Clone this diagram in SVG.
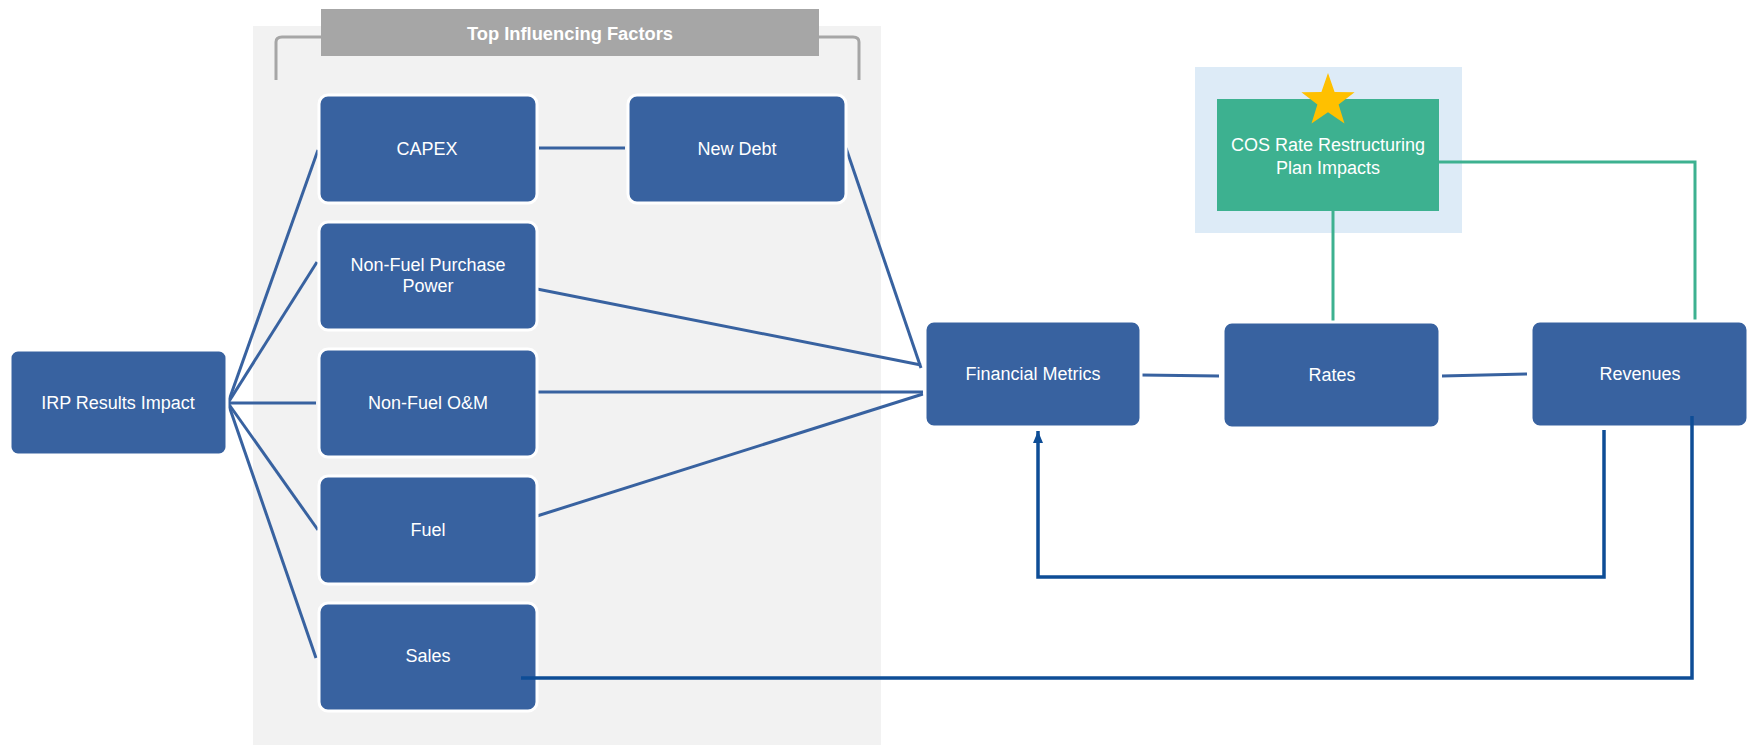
<svg xmlns="http://www.w3.org/2000/svg" width="1749" height="745" viewBox="0 0 1749 745">
<style>
.node{fill:#3862A0;stroke:#ffffff;stroke-width:3}
.t{font-family:"Liberation Sans",Arial,sans-serif;font-size:18px;fill:#ffffff;text-anchor:middle}
.c{fill:none;stroke:#3862A0;stroke-width:3}
.g{fill:none;stroke:#3DB190;stroke-width:3}
.d{fill:none;stroke:#0E4D96;stroke-width:3.5}
</style>
<defs>
<marker id="arr" markerWidth="12" markerHeight="10" refX="12" refY="5" orient="auto" markerUnits="userSpaceOnUse" viewBox="0 0 12 10">
<path d="M0,0 L12,5 L0,10 Z" fill="#0E4D96"/>
</marker>
</defs>
<rect width="1749" height="745" fill="#ffffff"/>
<g id="panel">
<rect x="253" y="26" width="628" height="719" fill="#F2F2F2"/>
<path d="M276,80 V42 Q276,37 282,37 H321 M819,37 H853 Q859,37 859,42 V80" fill="none" stroke="#A6A6A6" stroke-width="3"/>
<rect x="321" y="9" width="498" height="47" fill="#A6A6A6"/>
<text x="570" y="40" font-family="Liberation Sans,Arial,sans-serif" font-weight="bold" font-size="18" fill="#ffffff" text-anchor="middle" textLength="206" lengthAdjust="spacingAndGlyphs">Top Influencing Factors</text>
</g>
<g id="cos-bg">
<rect x="1195" y="67" width="267" height="166" fill="#DDEBF7"/>
</g>
<g id="connectors">
<line class="c" x1="228" y1="403" x2="318" y2="150"/>
<line class="c" x1="228" y1="403" x2="317" y2="262"/>
<line class="c" x1="228" y1="403" x2="316" y2="403"/>
<line class="c" x1="228" y1="403" x2="318" y2="530"/>
<line class="c" x1="228" y1="403" x2="316" y2="658"/>
<line class="c" x1="539" y1="148" x2="625" y2="148"/>
<line class="c" x1="846" y1="148" x2="921" y2="368"/>
<line class="c" x1="537" y1="289" x2="921" y2="365"/>
<line class="c" x1="537" y1="392" x2="923" y2="392"/>
<line class="c" x1="537" y1="516" x2="923" y2="394"/>
<line class="c" x1="1141" y1="375" x2="1219" y2="376"/>
<line class="c" x1="1442" y1="376" x2="1527" y2="374"/>
<path class="g" d="M1333,211 V327"/>
<path class="g" d="M1439,162 H1695 V325"/>
<path class="d" d="M1604,430 V577 H1038 V431" marker-end="url(#arr)"/>
</g>
<g id="irp"><rect class="node" x="10" y="350" width="217" height="105" rx="8"/><text class="t" x="118" y="409">IRP Results Impact</text></g>
<g id="capex"><rect class="node" x="319" y="95" width="218" height="108" rx="9"/><text class="t" x="427" y="155">CAPEX</text></g>
<g id="newdebt"><rect class="node" x="628" y="95" width="218" height="108" rx="9"/><text class="t" x="737" y="155">New Debt</text></g>
<g id="nfpp"><rect class="node" x="319" y="222" width="218" height="108" rx="9"/><text class="t" x="428" y="271">Non-Fuel Purchase</text><text class="t" x="428" y="292">Power</text></g>
<g id="om"><rect class="node" x="319" y="349" width="218" height="108" rx="9"/><text class="t" x="428" y="409">Non-Fuel O&amp;M</text></g>
<g id="fuel"><rect class="node" x="319" y="476" width="218" height="108" rx="9"/><text class="t" x="428" y="536">Fuel</text></g>
<g id="sales"><rect class="node" x="319" y="603" width="218" height="108" rx="9"/><text class="t" x="428" y="662">Sales</text></g>
<g id="fm"><rect class="node" x="925" y="321" width="216" height="106" rx="9"/><text class="t" x="1033" y="380">Financial Metrics</text></g>
<g id="rates"><rect class="node" x="1223" y="322" width="217" height="106" rx="9"/><text class="t" x="1332" y="381">Rates</text></g>
<g id="revenues"><rect class="node" x="1531" y="321" width="217" height="106" rx="9"/><text class="t" x="1640" y="380">Revenues</text></g>
<g id="connectors-top">
<path class="d" d="M1692,416 V678 H521"/>
</g>
<g id="cos">
<rect x="1217" y="99" width="222" height="112" fill="#3DB190"/>
<text class="t" x="1328" y="151">COS Rate Restructuring</text>
<text class="t" x="1328" y="174">Plan Impacts</text>
<polygon fill="#FFC000" points="1328,73 1334.6,91.9 1354.6,92.3 1338.6,104.4 1344.5,123.6 1328,112.2 1311.5,123.6 1317.4,104.4 1301.4,92.3 1321.4,91.9"/>
</g>
</svg>
